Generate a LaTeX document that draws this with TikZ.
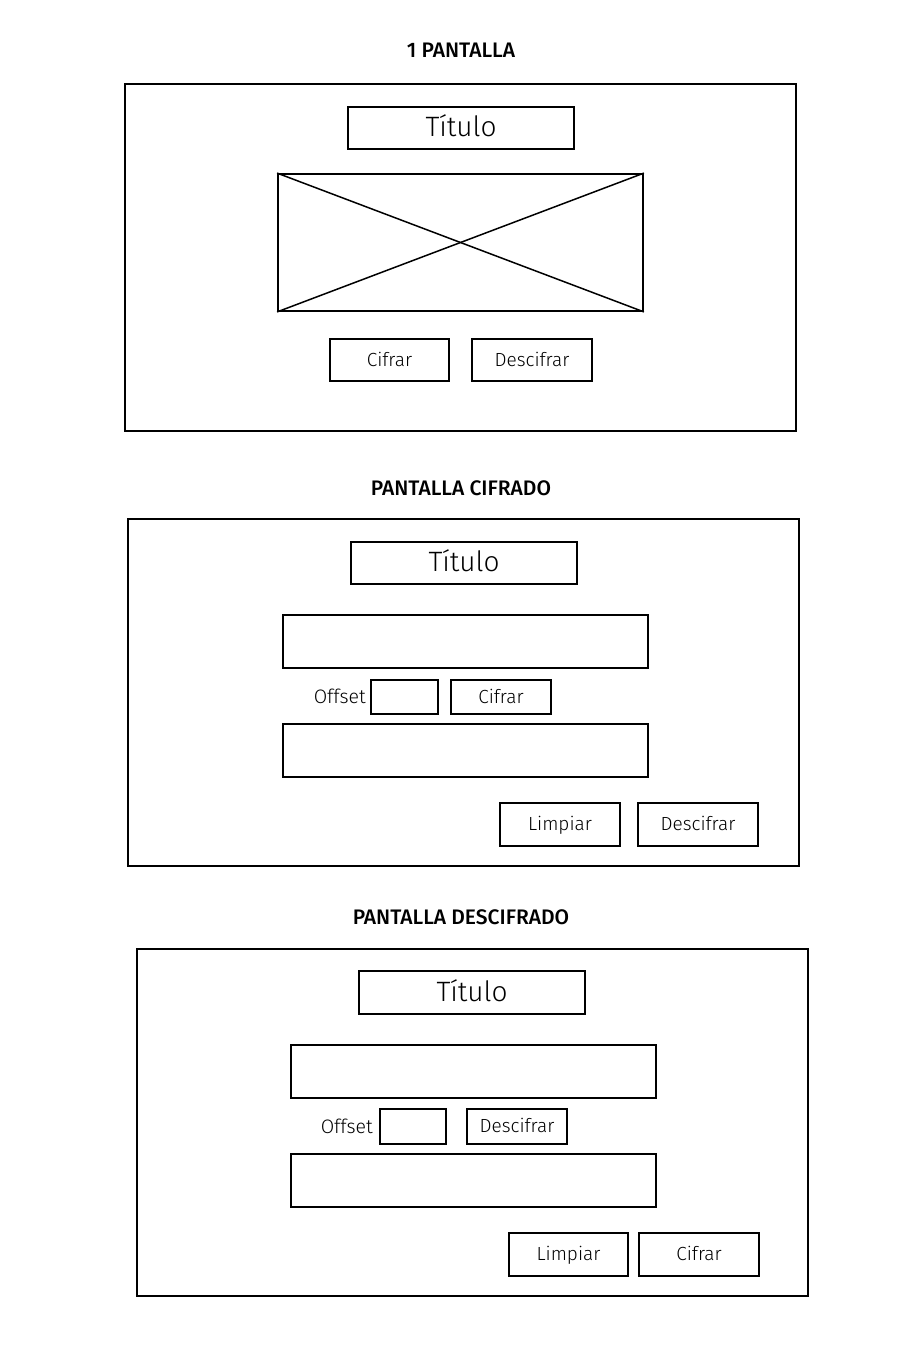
\documentclass[tikz,border=0pt]{standalone}
\usepackage{fontspec}
\setmainfont{Fira Sans}[UprightFont={* Light}, BoldFont={* Medium}]
\begin{document}
\begin{tikzpicture}[x=1pt,y=-1pt,
  frame/.style={draw=black, line width=1.8pt, inner sep=0pt, fill=none},
  wbox/.style={draw=black, line width=1.8pt, inner sep=0pt, text height=15pt, text depth=3pt, font=\fontsize{19}{22}\selectfont},
  tbox/.style={draw=black, line width=1.8pt, inner sep=0pt, text height=21.5pt, text depth=4.5pt, font=\fontsize{28}{32}\selectfont},
  head/.style={font=\bfseries\fontsize{21}{24}\selectfont},
  lbl/.style={anchor=east, inner sep=0pt, font=\fontsize{19.5}{22}\selectfont}]
\fill[white] (0,0) rectangle (920,1355);
\useasboundingbox (0,0) rectangle (920,1355);

% ---- Screen 1
\node[head] (h1) at (461,50) {1 PANTALLA};
\node[frame, minimum width=671, minimum height=347] (s1) at (460.5,257.5) {};
\node[tbox, minimum width=226, minimum height=42] (t1) at (461,128) {Título};
\node[frame, minimum width=365, minimum height=137] (img1) at (460.5,242.5) {};
\draw[line width=1.5pt] (img1.north west) -- (img1.south east);
\draw[line width=1.5pt] (img1.south west) -- (img1.north east);
\node[wbox, minimum width=119, minimum height=42] (c1) at (389.5,360) {Cifrar};
\node[wbox, minimum width=120, minimum height=42] (d1) at (532,360) {Descifrar};

% ---- Screen 2
\node[head] (h2) at (461,488) {PANTALLA CIFRADO};
\node[frame, minimum width=671, minimum height=347] (s2) at (463.5,692.5) {};
\node[tbox, minimum width=226, minimum height=42] (t2) at (464,563) {Título};
\node[frame, minimum width=365, minimum height=53] (in2) at (465.5,641.5) {};
\node[frame, minimum width=67, minimum height=34] (off2) at (404.5,697) {};
\node[lbl] (ol2) at (366,696) {Offset};
\node[wbox, minimum width=100, minimum height=34] (cif2) at (501,697) {Cifrar};
\node[frame, minimum width=365, minimum height=53] (out2) at (465.5,750.5) {};
\node[wbox, minimum width=120, minimum height=43] (lim2) at (560,824.5) {Limpiar};
\node[wbox, minimum width=120, minimum height=43] (des2) at (698,824.5) {Descifrar};

% ---- Screen 3
\node[head] (h3) at (461,917) {PANTALLA DESCIFRADO};
\node[frame, minimum width=671, minimum height=347] (s3) at (472.5,1122.5) {};
\node[tbox, minimum width=226, minimum height=43] (t3) at (472,992.5) {Título};
\node[frame, minimum width=365, minimum height=53] (in3) at (473.5,1071.5) {};
\node[frame, minimum width=66, minimum height=35] (off3) at (413,1126.5) {};
\node[lbl] (ol3) at (373,1126) {Offset};
\node[wbox, minimum width=100, minimum height=35] (des3) at (517,1126.5) {Descifrar};
\node[frame, minimum width=365, minimum height=53] (out3) at (473.5,1180.5) {};
\node[wbox, minimum width=119, minimum height=43] (lim3) at (568.5,1254.5) {Limpiar};
\node[wbox, minimum width=120, minimum height=43] (cif3) at (699,1254.5) {Cifrar};
\end{tikzpicture}
\end{document}
